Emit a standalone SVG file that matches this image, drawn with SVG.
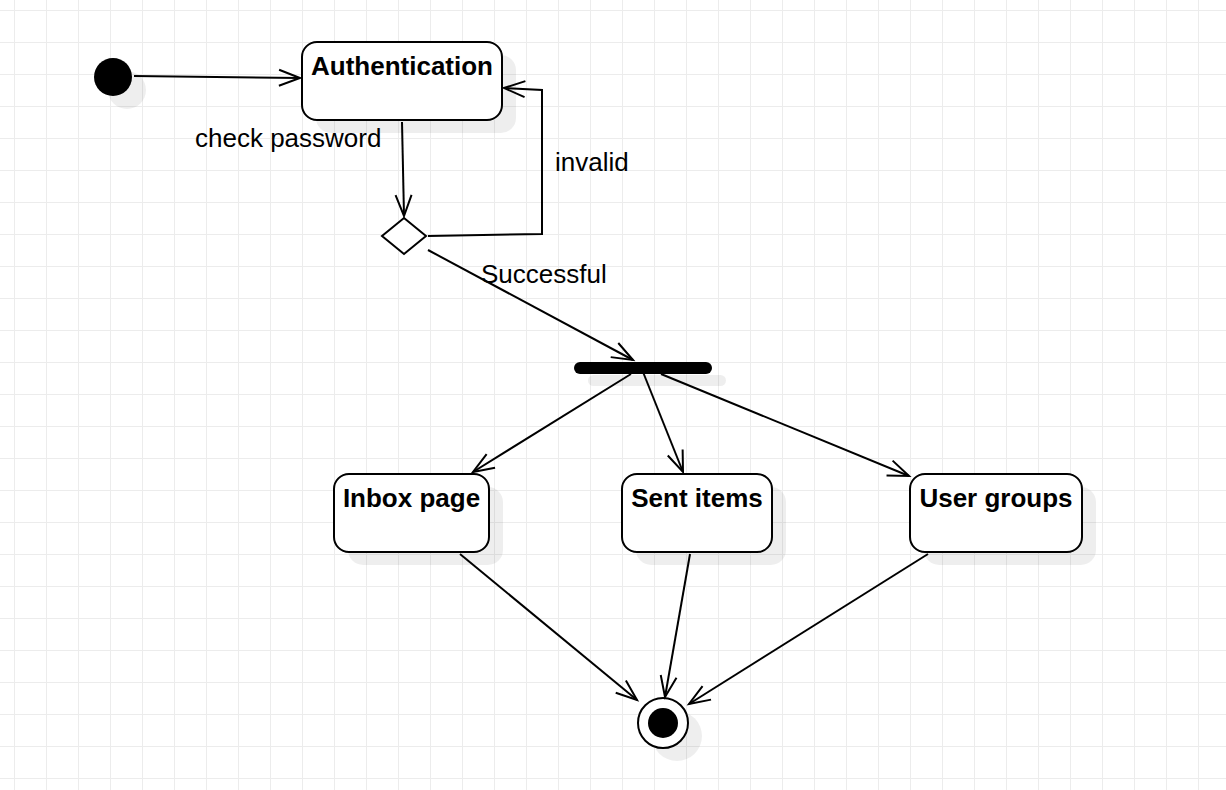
<svg xmlns="http://www.w3.org/2000/svg" width="1226" height="790" viewBox="0 0 1226 790">
<defs>
<pattern id="grid" x="14" y="10" width="32" height="32" patternUnits="userSpaceOnUse">
<path d="M0.5,0 V32 M0,0.5 H32" stroke="#ececec" stroke-width="1" fill="none"/>
</pattern>
<marker id="arr" markerUnits="userSpaceOnUse" markerWidth="30" markerHeight="30" viewBox="-25 -15 30 30" refX="0" refY="0" orient="auto" overflow="visible">
<path d="M-21,-8 L0,0 L-21,8" fill="none" stroke="#000" stroke-width="2"/>
</marker>
</defs>
<style>
.box{fill:#fff;stroke:#000;stroke-width:2}
.sh{fill:#000;fill-opacity:0.065;stroke:none}
.t{font-family:"Liberation Sans",Arial,sans-serif;font-size:26px;fill:#000}
.b{font-weight:bold;text-anchor:middle}
.e{fill:none;stroke:#000;stroke-width:2;marker-end:url(#arr)}
</style>
<rect width="1226" height="790" fill="#fff"/>
<rect width="1226" height="790" fill="url(#grid)"/>

<g id="initial">
<circle class="sh" cx="127" cy="90" r="19"/>
<circle cx="113" cy="77" r="19" fill="#000"/>
</g>
<g id="authentication">
<rect class="sh" x="316" y="55" width="200" height="78" rx="15"/>
<rect class="box" x="302" y="42" width="200" height="78" rx="15"/>
<text class="t b" x="402" y="75">Authentication</text>
</g>
<g id="decision">
<polygon points="404,218 426,236 404,254 382,236" fill="#fff" stroke="#000" stroke-width="2"/>
</g>
<g id="fork">
<rect class="sh" x="588" y="375" width="138" height="11" rx="5.5"/>
<rect x="574" y="362" width="138" height="12" rx="6" fill="#000"/>
</g>
<g id="inbox">
<rect class="sh" x="348" y="487" width="155" height="78" rx="15"/>
<rect class="box" x="334" y="474" width="155" height="78" rx="15"/>
<text class="t b" x="411.5" y="507">Inbox page</text>
</g>
<g id="sent">
<rect class="sh" x="636" y="487" width="150" height="78" rx="15"/>
<rect class="box" x="622" y="474" width="150" height="78" rx="15"/>
<text class="t b" x="697" y="507">Sent items</text>
</g>
<g id="groups">
<rect class="sh" x="924" y="487" width="172" height="78" rx="15"/>
<rect class="box" x="910" y="474" width="172" height="78" rx="15"/>
<text class="t b" x="996" y="507">User groups</text>
</g>
<g id="final">
<circle class="sh" cx="677" cy="736" r="25"/>
<circle cx="663" cy="723" r="25" fill="#fff" stroke="#000" stroke-width="2"/>
<circle cx="663" cy="723" r="15" fill="#000"/>
</g>

<g id="connectors">
<path class="e" d="M134,76 L300,78"/>
<path class="e" d="M402,122 L404,216"/>
<path class="e" d="M428,236 L542,234 L542,90 L504,88"/>
<path class="e" d="M428,250 L633,360"/>
<path class="e" d="M631,374 L473,472"/>
<path class="e" d="M643,372 L683,472"/>
<path class="e" d="M661,374 L909,476"/>
<path class="e" d="M460,554 L637,700"/>
<path class="e" d="M690,554 L665,697"/>
<path class="e" d="M928,554 L689,704"/>
</g>
<g id="labels">
<text class="t" x="195" y="147">check password</text>
<text class="t" x="555" y="171">invalid</text>
<text class="t" x="481" y="283">Successful</text>
</g>
</svg>
